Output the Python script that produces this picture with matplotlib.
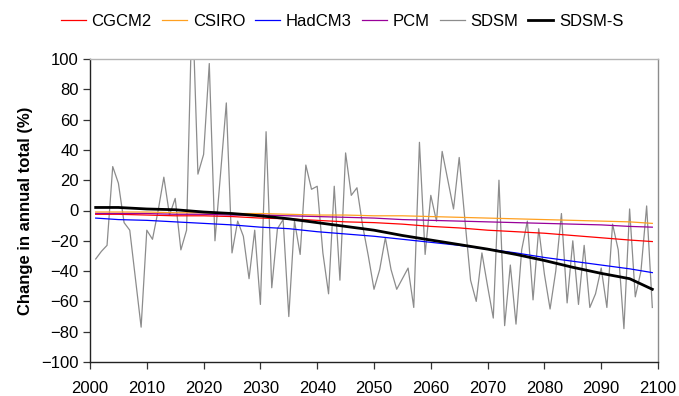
import matplotlib
matplotlib.use("Agg")
import matplotlib.pyplot as plt

plt.rcParams['font.family'] = ['Liberation Sans', 'DejaVu Sans']

years_sdsm = list(range(2001, 2100))
sdsm = [-32, -27, -23, 29, 18, -8, -13, -45, -77, -13,
        -19, 0, 22, -3, 8, -26, -13, 140, 24, 37,
        97, -20, 25, 71, -28, -7, -17, -45, -13, -62,
        52, -51, -12, -6, -70, -7, -29, 30, 14, 16,
        -28, -55, 16, -46, 38, 10, 15, -10, -30, -52,
        -39, -18, -39, -52, -45, -38, -64, 45, -29, 10,
        -7, 39, 20, 1, 35, -6, -46, -60, -28, -50,
        -71, 20, -76, -36, -75, -26, -7, -59, -12, -42,
        -65, -40, -2, -61, -20, -62, -23, -64, -55, -38,
        -64, -9, -26, -78, 1, -57, -40, 3, -64]

years_s = [2001, 2005, 2010, 2015, 2020, 2025, 2030, 2035, 2040, 2045, 2050,
           2055, 2060, 2065, 2070, 2075, 2080, 2085, 2090, 2095, 2099]
sdsm_s = [2, 2, 1, 0.5, -1, -2, -3.5, -5.5, -8, -10.5, -13,
          -16.5, -19.5, -22.5, -25.5, -29, -33, -37.5, -41.5, -45, -52]
hadcm3 = [-5, -6, -6.5, -7.5, -8.5, -9.5, -11, -12, -14, -15.5, -17,
          -19, -21, -23, -25.5, -28, -31, -33.5, -36, -38.5, -41]
cgcm2 = [-2.5, -2.5, -3, -3.5, -3.5, -4, -5, -5.5, -6.5, -7.5, -8,
         -9, -10.5, -11.5, -13, -14, -15, -16.5, -18, -19.5, -20.5]
csiro = [-1, -1, -1, -1.5, -1.5, -2, -2, -2.5, -3, -3, -3.5,
         -3.5, -4, -4.5, -5, -5.5, -6, -6.5, -7, -7.5, -8.5]
pcm = [-2, -2, -2, -2.5, -2.5, -3, -3, -3.5, -4, -4.5, -5,
       -6, -6.5, -7, -7.5, -8, -8.5, -9, -9.5, -10.5, -11]

xticks = list(range(2000, 2101, 10))
yticks = list(range(-100, 101, 20))

fig = plt.figure(figsize=(6.79, 3.96), dpi=100)
ax = fig.add_axes([90/679, 1-362/396, (658-90)/679, (362-59)/396])

ax.plot(years_s, cgcm2, color='#ff0000', lw=0.9, label='CGCM2', zorder=3)
ax.plot(years_s, csiro, color='#ffa020', lw=0.9, label='CSIRO', zorder=3)
ax.plot(years_s, hadcm3, color='#0000ff', lw=0.9, label='HadCM3', zorder=3)
ax.plot(years_s, pcm, color='#990099', lw=0.9, label='PCM', zorder=3)
ax.plot(years_sdsm, sdsm, color='#8c8c8c', lw=0.9, label='SDSM', zorder=2)
ax.plot(years_s, sdsm_s, color='#000000', lw=2.0, label='SDSM-S', zorder=4)

ax.set_xlim(2000, 2100)
ax.set_ylim(-100, 100)
ax.set_xticks(xticks)
ax.set_yticks(yticks)
ax.tick_params(axis='both', labelsize=12, direction='out', length=5, width=0.9, color='#333333')
ax.tick_params(axis='x', pad=9)
ax.tick_params(axis='y', pad=3)

ax.spines['left'].set_color('#222222')
ax.spines['bottom'].set_color('#222222')
ax.spines['top'].set_color('#b4b4b4')
ax.spines['right'].set_color('#8c8c8c')
for s in ax.spines.values():
    s.set_linewidth(1.0)

ax.set_ylabel('Change in annual total (%)', fontsize=12, fontweight='bold', labelpad=6)

fig.legend(loc='center', bbox_to_anchor=(0.504, 1-21.7/396), ncol=6, frameon=False,
           fontsize=12, handlelength=1.5, handletextpad=0.35, columnspacing=0.6,
           borderaxespad=0, borderpad=0)

fig.savefig('out.png', dpi=100)
